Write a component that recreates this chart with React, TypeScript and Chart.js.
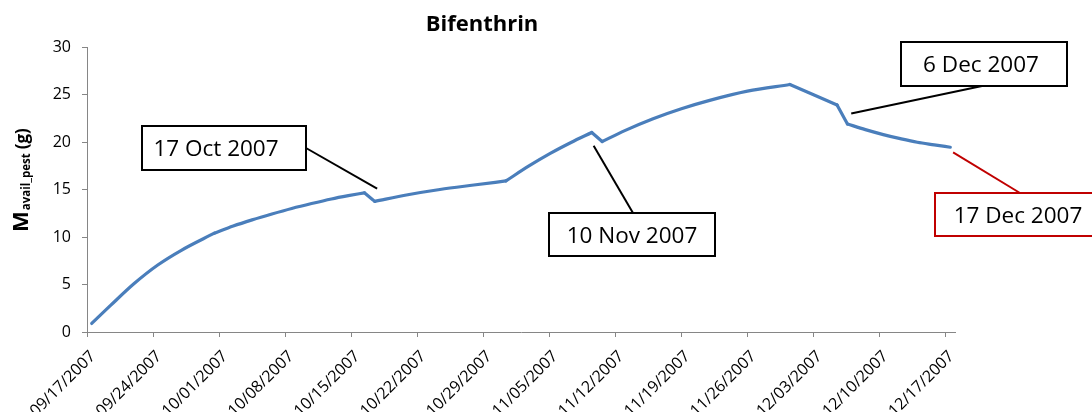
import React, { useEffect, useRef } from "react";
import { Chart, registerables } from "chart.js";

Chart.register(...registerables);

// ---- data (days since 09/17/2007, mass in g) ----
const dayOffsets = [
  0.5, 2.5, 5, 7.5, 10, 13.5,
  15.5, 17.5, 19.6, 21.7, 23.8, 25.9, 27.7, 29.4,
  30.5, 34, 37.4, 41, 44.4,
  46.8, 49.1, 51.3, 53.5,
  54.6, 57, 60, 63, 66, 70, 74.5,
  79.5, 80.6, 82.5, 84.4, 86.2, 88, 89.8, 91.5,
];
const massValues = [
  0.9, 2.8, 5.1, 7.05, 8.6, 10.4,
  11.15, 11.8, 12.42, 13.0, 13.52, 14.0, 14.35, 14.65,
  13.75, 14.45, 15.0, 15.47, 15.9,
  17.45, 18.8, 19.95, 21.0,
  20.05, 21.2, 22.45, 23.5, 24.38, 25.35, 26.05,
  23.9, 21.9, 21.3, 20.78, 20.35, 19.97, 19.7, 19.45,
];
// indices where the curve has a sharp corner (application / decay events)
const cornerIndices = [0, 5, 13, 14, 18, 22, 23, 29, 30, 31, 37];

const tickDays = [0, 7, 14, 21, 28, 35, 42, 49, 56, 63, 70, 77, 84, 91];
const tickLabels = [
  "09/17/2007", "09/24/2007", "10/01/2007", "10/08/2007", "10/15/2007", "10/22/2007",
  "10/29/2007", "11/05/2007", "11/12/2007", "11/19/2007", "11/26/2007", "12/03/2007",
  "12/10/2007", "12/17/2007",
];
const yTicks = [0, 5, 10, 15, 20, 25, 30];
const titleText = "Bifenthrin";
const yTitleMain = "M";
const yTitleSub = "avail_pest";
const yTitleUnit = "(g)";

// callouts: tip given in data units (day, mass); boxes in pixels
const calloutTexts = ["17 Oct 2007", "10 Nov 2007", "6 Dec 2007", "17 Dec 2007"];
const calloutTipDays = [30.75, 53.7, 81.0, 91.8];
const calloutTipValues = [15.1, 19.6, 23.0, 18.9];

const calloutLayout = [
  { box: [142, 126, 306, 170], from: [306, 148], textX: 216, color: "#000000" },
  { box: [549, 213, 715, 256], from: [633, 213], textX: 632, color: "#000000" },
  { box: [901, 42, 1067, 86], from: [982, 86], textX: 981, color: "#000000" },
  { box: [935, 193, 1101, 236], from: [1020, 193], textX: 1018, color: "#C00000" },
];

const FONT = "'Open Sans', 'DejaVu Sans', sans-serif";
const AXIS_GRAY = "#868686";
const LINE_BLUE = "#4A7EBB";

const overlayPlugin = {
  id: "overlay",
  afterDraw(chart: any) {
    const ctx = chart.ctx as CanvasRenderingContext2D;
    const xs = chart.scales.x;
    const ys = chart.scales.y;
    ctx.save();

    // title
    ctx.fillStyle = "#000";
    ctx.font = `bold 22px ${FONT}`;
    ctx.textAlign = "center";
    ctx.textBaseline = "alphabetic";
    ctx.fillText(titleText, 482, 31);

    // y-axis title with subscript
    ctx.save();
    ctx.translate(28, 232);
    ctx.rotate(-Math.PI / 2);
    ctx.textAlign = "left";
    ctx.font = `bold 22px ${FONT}`;
    ctx.fillText(yTitleMain, 0, 0);
    const wM = ctx.measureText(yTitleMain).width;
    ctx.font = `bold 11.5px ${FONT}`;
    ctx.fillText(yTitleSub, wM + 1, 2);
    const wS = ctx.measureText(yTitleSub).width;
    ctx.font = `bold 17px ${FONT}`;
    ctx.fillText(yTitleUnit, wM + 1 + wS + 4, 0);
    ctx.restore();

    // callouts
    calloutLayout.forEach((c, i) => {
      const tx = xs.getPixelForValue(calloutTipDays[i]);
      const ty = ys.getPixelForValue(calloutTipValues[i]);
      ctx.strokeStyle = c.color;
      ctx.lineWidth = 2;
      ctx.beginPath();
      ctx.moveTo(c.from[0], c.from[1]);
      ctx.lineTo(tx, ty);
      ctx.stroke();

      const [x0, y0, x1, y1] = c.box;
      ctx.fillStyle = "#fff";
      ctx.fillRect(x0, y0, x1 - x0, y1 - y0);
      ctx.strokeRect(x0, y0, x1 - x0, y1 - y0);
      ctx.fillStyle = "#000";
      ctx.font = `22.5px ${FONT}`;
      ctx.textAlign = "center";
      ctx.textBaseline = "alphabetic";
      ctx.fillText(calloutTexts[i], c.textX, (y0 + y1) / 2 + 8);
    });

    ctx.restore();
  },
};

export default function App() {
  const canvasRef = useRef<HTMLCanvasElement | null>(null);

  useEffect(() => {
    document.body.style.margin = "0";
    const canvas = canvasRef.current;
    if (!canvas) return;
    const points = dayOffsets.map((d, i) => ({ x: d, y: massValues[i] }));
    const datasets = [] as any[];
    for (let k = 0; k < cornerIndices.length - 1; k++) {
      datasets.push({
        data: points.slice(cornerIndices[k], cornerIndices[k + 1] + 1),
        borderColor: LINE_BLUE,
        borderWidth: 3.2,
        borderCapStyle: "round",
        borderJoinStyle: "round",
        pointRadius: 0,
        cubicInterpolationMode: "monotone",
        fill: false,
      });
    }
    const chart = new Chart(canvas, {
      type: "line",
      data: { datasets },
      options: {
        responsive: false,
        animation: false,
        devicePixelRatio: 1,
        layout: { padding: { left: 0, top: 47, right: 137, bottom: 0 } },
        plugins: {
          legend: { display: false },
          title: { display: false },
          tooltip: { enabled: false },
        },
        scales: {
          x: {
            type: "linear",
            min: 0,
            max: 92,
            afterBuildTicks: (s: any) => {
              s.ticks = tickDays.map((v) => ({ value: v }));
            },
            afterFit: (s: any) => {
              s.height = 80;
            },
            grid: { drawOnChartArea: false, tickLength: 5, color: AXIS_GRAY },
            border: { color: AXIS_GRAY, width: 1 },
            ticks: {
              autoSkip: false,
              minRotation: 45,
              maxRotation: 45,
              padding: 10,
              labelOffset: 6,
              color: "#000",
              font: { family: FONT, size: 16 },
              callback: (v: any) => {
                const idx = tickDays.indexOf(Number(v));
                return idx >= 0 ? tickLabels[idx] : "";
              },
            },
          },
          y: {
            type: "linear",
            min: 0,
            max: 30,
            afterBuildTicks: (s: any) => {
              s.ticks = yTicks.map((v) => ({ value: v }));
            },
            afterFit: (s: any) => {
              s.width = 87;
            },
            grid: { drawOnChartArea: false, tickLength: 5, color: AXIS_GRAY },
            border: { color: AXIS_GRAY, width: 1 },
            ticks: {
              padding: 11,
              color: "#000",
              font: { family: FONT, size: 16 },
            },
          },
        },
      },
      plugins: [overlayPlugin],
    } as any);
    return () => chart.destroy();
  }, []);

  return (
    <div style={{ width: 1092, height: 412 }}>
      <canvas ref={canvasRef} width={1092} height={412} style={{ display: "block" }} />
    </div>
  );
}
